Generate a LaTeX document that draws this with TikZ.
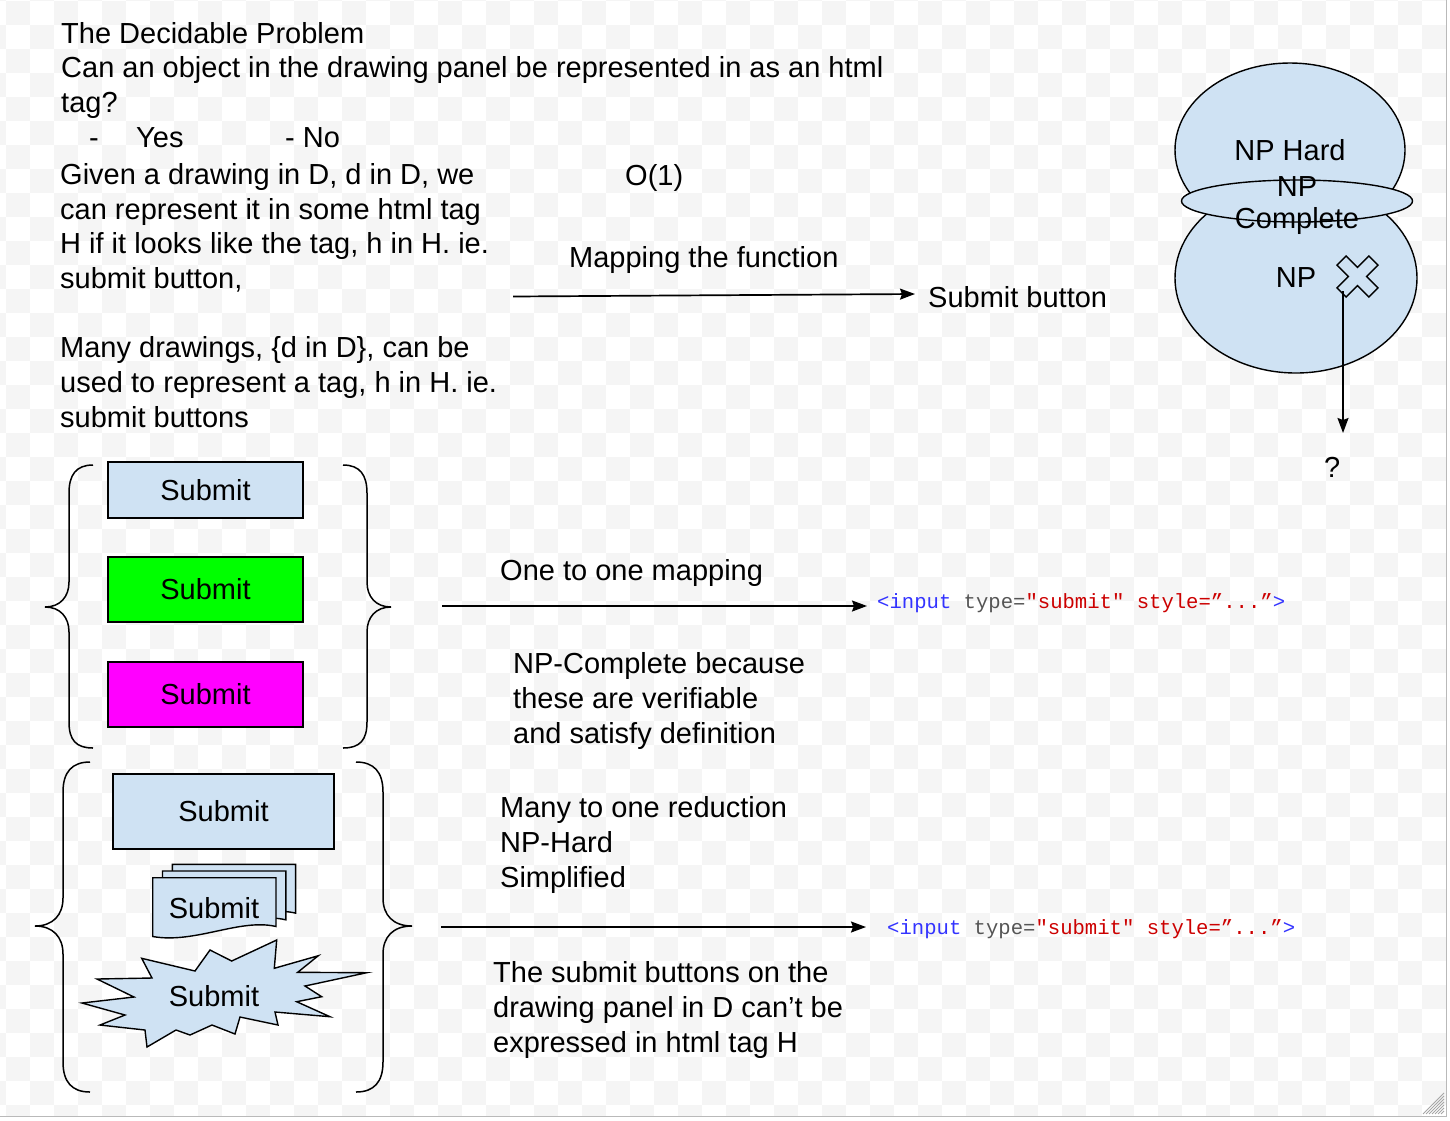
\documentclass[tikz,border=0pt]{standalone}
\usepackage{fontspec}
\setmainfont{Liberation Sans}
\newfontfamily\codefont{Liberation Mono}
\usetikzlibrary{shapes.geometric,arrows.meta}
\definecolor{boxblue}{HTML}{CFE2F3}
\definecolor{boxgreen}{HTML}{00FF00}
\definecolor{boxpink}{HTML}{FF00FF}
\definecolor{codeblue}{HTML}{3333FF}
\definecolor{codegray}{HTML}{555555}
\definecolor{codered}{HTML}{CC0000}
\definecolor{checker}{HTML}{F5F5F5}
\tikzset{
   txt/.style={font=\fontsize{29}{34.7}\selectfont, inner sep=0pt, align=left, anchor=base west},
   code/.style={font=\codefont\fontsize{20.6}{24}\selectfont, inner sep=0pt, anchor=base west},
   btn/.style={draw, line width=1.4pt, font=\fontsize{29}{34.7}\selectfont, inner sep=0pt},
   blob/.style={ellipse, draw, fill=boxblue, line width=1.4pt, inner sep=0pt, font=\fontsize{29}{34.7}\selectfont},
   arr/.style={line width=1.7pt, -{Stealth[length=15pt,width=11pt,inset=2pt]}},
   brace/.style={line width=1.5pt}
}

\begin{document}
\begin{tikzpicture}[x=1pt,y=-1pt]
   \useasboundingbox (0,0) rectangle (1450,1120);
   % checkered canvas
   \begin{scope}
      \clip (0,0) rectangle (1446,1115);
      \foreach \i in {0,2,...,60} {
         \foreach \j in {0,2,...,46} {
            \fill[checker] (-18+24*\i,-23+24*\j) rectangle +(24,24);
            \fill[checker] (6+24*\i,1+24*\j) rectangle +(24,24);
         }
      }
   \end{scope}
   \draw[gray!55,line width=1pt] (1446,0) -- (1446,1116) -- (0,1116);
   \foreach \d in {3,6,...,21}
      \draw[gray!70,line width=0.8pt] (1444-\d,1114) -- (1444,1114-\d);

   % text on the left (multi-line nodes sit on their last line)
   \node[txt] (title) at (61,112.5) {The Decidable Problem\\Can an object in the drawing panel be represented in as an html\\tag?};
   \node[txt] (dash) at (89,147) {-};
   \node[txt] (yes) at (136,147) {Yes};
   \node[txt] (no) at (285,147) {- No};
   \node[txt] (given) at (60,288.5) {Given a drawing in D, d in D, we\\can represent it in some html tag\\H if it looks like the tag, h in H. ie.\\submit button,};
   \node[txt] (many) at (60,427) {Many drawings, \{d in D\}, can be\\used to represent a tag, h in H. ie.\\submit buttons};

   % mapping
   \node[txt] (order) at (625,185) {O(1)};
   \node[txt] (mapping) at (569,267) {Mapping the function};
   \node[txt] (sbutton) at (928,307) {Submit button};
   \coordinate (mapstart) at (513,296.5);
   \coordinate (mapend) at (915,294);
   \draw[arr] (mapstart) -- (mapend);

   % NP sets
   \node[blob, minimum width=230, minimum height=174] (nphard) at (1290,150) {NP Hard};
   \node[blob, minimum width=242, minimum height=190] (np) at (1296,278) {NP};
   \node[blob, minimum width=231, minimum height=42] (npc) at (1297,201) {};
   \node[font=\fontsize{29}{32}\selectfont, align=center, inner sep=0pt] (npclabel) at (1297,205.5) {NP\\Complete};
   \begin{scope}[shift={(1357.5,276.5)}, rotate=45]
      \filldraw[fill=boxblue, line width=1.4pt] (6.5,6.5) -- (6.5,22.5) -- (-6.5,22.5) -- (-6.5,6.5) -- (-22.5,6.5) -- (-22.5,-6.5)
         -- (-6.5,-6.5) -- (-6.5,-22.5) -- (6.5,-22.5) -- (6.5,-6.5) -- (22.5,-6.5) -- (22.5,6.5) -- cycle;
   \end{scope}
   \coordinate (xmark) at (1343,291);
   \coordinate (qend) at (1343,433);
   \node[txt] (qmark) at (1324,477) {?};
   \draw[arr] (xmark) -- (qend);

   % first group of buttons
   \draw[brace] (93,465) .. controls (76,465) and (69,475) .. (69,493) -- (69,582) .. controls (69,597) and (60,607) .. (45,607)
      .. controls (60,607) and (69,617) .. (69,632) -- (69,722) .. controls (69,740) and (76,748) .. (93,748);
   \draw[brace] (343,465) .. controls (360,465) and (367,475) .. (367,493) -- (367,582) .. controls (367,597) and (376,607) .. (391,607)
      .. controls (376,607) and (367,617) .. (367,632) -- (367,722) .. controls (367,740) and (360,748) .. (343,748);
   \node[btn, fill=boxblue, minimum width=195, minimum height=56] (plain) at (205.5,490) {Submit};
   \node[btn, fill=boxgreen, minimum width=195, minimum height=65] (lime) at (205.5,589.5) {Submit};
   \node[btn, fill=boxpink, minimum width=195, minimum height=65] (pink) at (205.5,694.5) {Submit};

   \node[txt] (onetoone) at (500,580) {One to one mapping};
   \coordinate (oostart) at (442,606);
   \coordinate (ooend) at (867,606);
   \draw[arr] (oostart) -- (ooend);
   \node[code] (tagone) at (877,608.5) {\textcolor{codeblue}{<input} \textcolor{codegray}{type=}\textcolor{codered}{"submit" style=”...”}\textcolor{codeblue}{>}};
   \node[txt] (npcomplete) at (513,743) {NP-Complete because\\these are verifiable\\and satisfy definition};

   % second group of buttons
   \draw[brace] (90,762) .. controls (72,762) and (63,772) .. (63,792) -- (63,898) .. controls (63,915) and (53,926) .. (35,926)
      .. controls (53,926) and (63,937) .. (63,954) -- (63,1062) .. controls (63,1082) and (72,1092) .. (90,1092);
   \draw[brace] (356,762) .. controls (374,762) and (383,772) .. (383,792) -- (383,898) .. controls (383,915) and (393,926) .. (412,926)
      .. controls (393,926) and (383,937) .. (383,954) -- (383,1062) .. controls (383,1082) and (374,1092) .. (356,1092);
   \node[btn, fill=boxblue, minimum width=221, minimum height=75] (wide) at (223.5,811.5) {Submit};
   \foreach \dx/\dy in {19.6/-13.4, 9.8/-6.7, 0/0}
      \filldraw[fill=boxblue, line width=1.4pt, shift={(\dx,\dy)}] (152.7,877.7) -- (276,877.7) -- (276,926.5)
         .. controls (240,918) and (195,944) .. (152.7,936.5) -- cycle;
   \node[font=\fontsize{29}{34.7}\selectfont, inner sep=0pt] (docs) at (214,908) {Submit};
   \filldraw[fill=boxblue, line width=1.4pt] (141.7,958.3) -- (195,971) -- (210,950) -- (231.7,961) -- (276.7,940) -- (274.3,968.3)
      -- (318.3,955.7) -- (297.7,972.3) -- (366.7,972.7) -- (305,986) -- (321.7,996.7) -- (296.7,1001.7) -- (330,1016.7)
      -- (275,1012) -- (278,1025) -- (240,1017) -- (235,1034) -- (212,1025) -- (190,1035) -- (176,1030) -- (147,1047)
      -- (145,1030) -- (100,1025) -- (125,1015) -- (82,1003) -- (134,997) -- (97,979) -- (152,978) -- cycle;
   \node[font=\fontsize{29}{34.7}\selectfont, inner sep=0pt] (burst) at (214,996) {Submit};

   \node[txt] (manyone) at (500,887) {Many to one reduction\\NP-Hard\\Simplified};
   \coordinate (mostart) at (441,927);
   \coordinate (moend) at (866,927);
   \draw[arr] (mostart) -- (moend);
   \node[code] (tagtwo) at (887,934) {\textcolor{codeblue}{<input} \textcolor{codegray}{type=}\textcolor{codered}{"submit" style=”...”}\textcolor{codeblue}{>}};
   \node[txt] (cantbe) at (493,1052) {The submit buttons on the\\drawing panel in D can’t be\\expressed in html tag H};
\end{tikzpicture}
\end{document}
